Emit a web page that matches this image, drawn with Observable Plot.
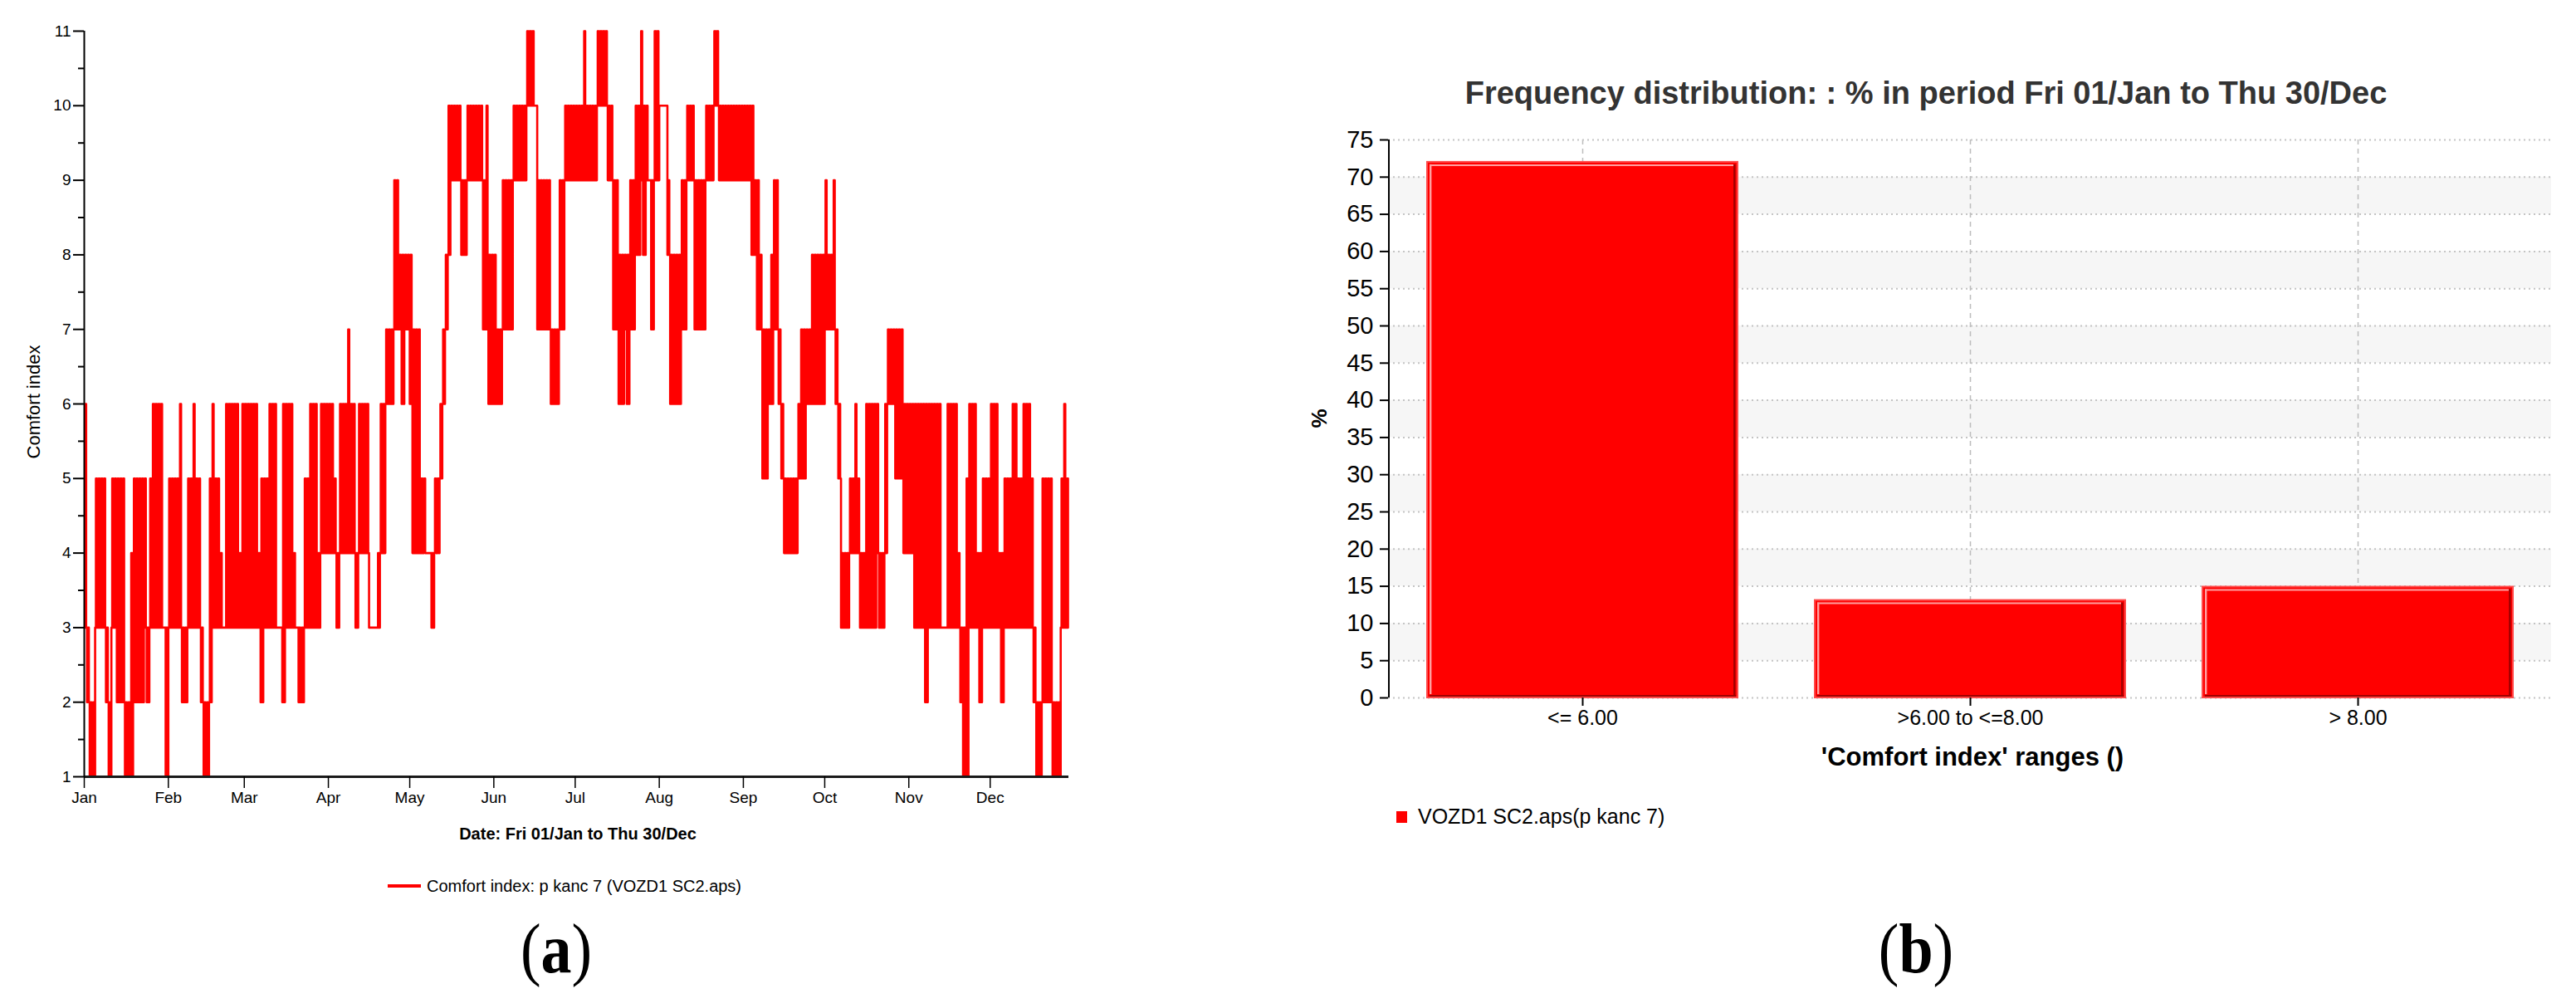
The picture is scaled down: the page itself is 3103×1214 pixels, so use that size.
<!DOCTYPE html>
<html><head><meta charset="utf-8">
<script src="https://cdn.jsdelivr.net/npm/d3@7"></script>
<script src="https://cdn.jsdelivr.net/npm/@observablehq/plot@0.6"></script>
<style>
body{margin:0;background:#fff;}
#root{position:relative;width:3103px;height:1214px;background:#fff;overflow:hidden;font-family:"Liberation Sans",Arial,sans-serif;color:#000;}
.t{position:absolute;white-space:nowrap;line-height:1;}
.p{position:absolute;}
</style></head><body><div id="root"></div>
<script>
// ---------- data: panel (a) ----------
const yearStart = "2010-01-01";
const yearEnd = "2010-12-30";
const monthTicks = ["2010-01-01","2010-02-01","2010-03-01","2010-04-01","2010-05-01","2010-06-01",
  "2010-07-01","2010-08-01","2010-09-01","2010-10-01","2010-11-01","2010-12-01"];
const comfortTicks = [1,2,3,4,5,6,7,8,9,10,11];
const comfortMinorTicks = [1.5,2.5,3.5,4.5,5.5,6.5,7.5,8.5,9.5,10.5];
// [first day, last day, daily low, daily high] (day 0 = 01/Jan)
const comfortRuns = [
  [0,0,3,6],[1,1,2,3],[2,3,1,2],[4,7,3,5],[8,8,2,3],[9,9,1,2],[10,11,3,5],[12,14,2,5],
  [15,16,1,2],[17,17,1,4],[18,21,2,5],[22,22,3,5],[23,23,2,3],[24,24,3,5],[25,28,3,6],
  [29,29,3,3],[30,30,1,3],[31,34,3,5],[35,35,3,6],[36,37,2,3],[38,39,3,5],[40,40,3,6],
  [41,42,3,5],[43,43,2,3],[44,45,1,2],[46,46,2,5],[47,47,3,6],[48,49,3,5],[50,50,3,4],
  [51,51,3,3],[52,56,3,6],[57,57,3,4],[58,63,3,6],[64,64,3,4],[65,65,2,5],[66,67,3,5],
  [68,70,3,6],[71,72,3,3],[73,73,2,6],[74,76,3,6],[77,77,3,4],[78,78,3,3],[79,80,2,3],
  [81,82,3,5],[83,85,3,6],[86,86,3,4],[87,91,4,6],[92,92,4,5],[93,93,3,4],[94,96,4,6],
  [97,97,4,7],[98,99,4,6],[100,100,3,4],[101,104,4,6],[105,107,3,3],[108,108,3,4],
  [109,110,4,6],[111,113,6,7],[114,115,7,9],[116,116,7,8],[117,117,6,8],[118,119,7,8],
  [120,120,6,8],[121,123,4,7],[124,125,4,5],[126,127,4,4],[128,128,3,4],[129,130,4,5],
  [131,131,5,6],[132,132,6,7],[133,133,7,8],[134,134,8,10],[135,138,9,10],[139,140,8,9],
  [141,146,9,10],[147,147,7,9],[148,148,7,10],[149,151,6,8],[152,153,6,7],[154,157,7,9],
  [158,162,9,10],[163,165,10,11],[166,166,10,10],[167,171,7,9],[172,174,6,7],[175,176,7,9],
  [177,183,9,10],[184,184,9,11],[185,188,9,10],[189,192,10,11],[193,194,9,10],[195,196,7,9],
  [197,198,6,8],[199,199,7,8],[200,200,6,8],[201,202,7,9],[203,204,8,10],[205,205,9,11],
  [206,206,8,10],[207,207,9,10],[208,208,9,9],[209,209,7,9],[210,211,9,11],[212,214,10,10],
  [215,215,8,9],[216,219,6,8],[220,221,7,9],[222,224,9,10],[225,228,7,9],[229,231,9,10],
  [232,233,10,11],[234,245,9,10],[246,246,8,10],[247,247,8,9],[248,248,7,9],[249,249,7,8],
  [250,251,5,7],[252,252,6,7],[253,253,6,8],[254,255,7,9],[256,256,6,7],[257,257,5,6],
  [258,262,4,5],[263,263,5,6],[264,265,5,7],[266,267,6,7],[268,272,6,8],[273,273,7,9],
  [274,275,7,8],[276,276,7,9],[277,277,6,7],[278,278,5,6],[279,281,3,4],[282,283,4,5],
  [284,284,4,6],[285,285,4,5],[286,287,3,4],[288,291,3,6],[292,292,4,6],[293,294,3,4],
  [295,295,4,6],[296,298,6,7],[299,301,5,7],[302,305,4,6],[306,309,3,6],[310,310,2,6],
  [311,315,3,6],[316,317,3,3],[318,321,3,6],[322,322,3,4],[323,323,2,3],[324,324,1,3],
  [325,325,1,5],[326,328,3,6],[329,329,3,4],[330,330,2,4],[331,333,3,5],[334,336,3,6],
  [337,337,3,4],[338,338,2,4],[339,341,3,5],[342,343,3,6],[344,345,3,5],[346,348,3,6],
  [349,349,3,5],[350,350,2,3],[351,352,1,2],[353,356,2,5],[357,359,1,2],[360,360,3,5],
  [361,361,3,6],[362,362,3,5]
];
// ---------- data: panel (b) ----------
const rangeCategories = ["<= 6.00", ">6.00 to <=8.00", "> 8.00"];
const rangePercent = [72.0, 13.1, 14.9];
const percentTicks = [0,5,10,15,20,25,30,35,40,45,50,55,60,65,70,75];

const root = document.getElementById("root");
const FONT = '"Liberation Sans", Arial, sans-serif';

// ---------- panel (a) ----------
const DAY = 864e5;
const t0 = Date.parse(yearStart + "T00:00:00Z");
const series = [];
for (const [d0, d1, lo, hi] of comfortRuns) {
  for (let d = d0; d <= d1; d++) {
    series.push({t: new Date(t0 + d * DAY), v: lo});
    series.push({t: new Date(t0 + (d + 0.3) * DAY), v: hi});
    series.push({t: new Date(t0 + (d + 0.7) * DAY), v: lo});
  }
}
const xStart = new Date(yearStart + "T00:00:00Z");
const xEnd = new Date(yearEnd + "T00:00:00Z");

const plotA = Plot.plot({
  width: 1400, height: 1000,
  marginLeft: 101, marginRight: 113, marginTop: 37, marginBottom: 65,
  style: {fontFamily: FONT, fontSize: "19px", color: "#000", background: "transparent", overflow: "visible"},
  x: {type: "utc", domain: [xStart, xEnd], label: null},
  y: {domain: [1, 11], label: null},
  marks: [
    Plot.line(series, {x: "t", y: "v", curve: "step-after", stroke: "#ff0000", strokeWidth: 2.6}),
    Plot.ruleY([1], {stroke: "#1a1a1a", strokeWidth: 3}),
    Plot.ruleX([xStart], {y1: 1, y2: 11, stroke: "#000", strokeWidth: 2}),
    Plot.axisX({ticks: monthTicks.map(d => new Date(d + "T00:00:00Z")), tickFormat: d3.utcFormat("%b"),
      tickSize: 14, tickPadding: 4, strokeWidth: 1.5, label: null}),
    Plot.axisY({ticks: comfortTicks, tickSize: 13, tickPadding: 3, strokeWidth: 2, label: null}),
    Plot.axisY({ticks: comfortMinorTicks, tickSize: 7, tickFormat: () => "", strokeWidth: 2, label: null})
  ]
});
const wrapA = document.createElement("div");
wrapA.className = "p"; wrapA.style.left = "0px"; wrapA.style.top = "0px";
wrapA.appendChild(plotA); root.appendChild(wrapA);

// ---------- panel (b) ----------
const W2 = 1603, H2 = 800, mL2 = 172, mR2 = 30, mT2 = 28, mB2 = 100;
const step = (W2 - mL2 - mR2) / rangeCategories.length;
const bw = step * 0.8;
const bars = rangeCategories.map((c, i) => ({c, p: rangePercent[i]}));
const shade = d3.pairs(percentTicks).filter((_, i) => i % 2 === 1);

const plotB = Plot.plot({
  width: W2, height: H2,
  marginLeft: mL2, marginRight: mR2, marginTop: mT2, marginBottom: mB2,
  style: {fontFamily: FONT, fontSize: "25px", color: "#000", background: "transparent", overflow: "visible"},
  x: {type: "band", domain: rangeCategories, paddingInner: 0.2, paddingOuter: 0.1, label: null},
  y: {domain: [0, 75], label: null},
  marks: [
    Plot.rect(shade, {y1: d => d[0], y2: d => d[1], fill: "#f6f6f6"}),
    Plot.gridX({stroke: "#bdbdbd", strokeOpacity: 1, strokeWidth: 1.5, strokeDasharray: "6,5"}),
    Plot.ruleY(percentTicks, {stroke: "#c4c4c4", strokeWidth: 2, strokeDasharray: "2,4"}),
    Plot.barY(bars, {x: "c", y: "p", fill: "#ff0000", stroke: "#ff4a4a", strokeWidth: 2}),
    Plot.barY(bars, {x: "c", y: "p", fill: "#a00000", insetLeft: bw - 4.5, insetRight: 2.5, insetTop: 3, insetBottom: 1}),
    Plot.tickY(bars, {x: "c", y: () => 0, dy: -2.5, stroke: "#a00000", strokeWidth: 2, insetLeft: 3, insetRight: 2}),
    Plot.tickY(bars, {x: "c", y: "p", dy: 3.5, stroke: "#ffa0a0", strokeWidth: 2, insetLeft: 3, insetRight: 5}),
    Plot.barY(bars, {x: "c", y: "p", fill: "#ffa0a0", insetLeft: 3, insetRight: bw - 5, insetTop: 3, insetBottom: 4}),
    Plot.ruleX([rangeCategories[0]], {y1: 0, y2: 75, dx: -step / 2, stroke: "#000", strokeWidth: 2}),
    Plot.axisY({ticks: percentTicks, tickSize: 10, tickPadding: 8, strokeWidth: 2, fontSize: 29, label: null}),
    Plot.axisX({tickSize: 10, tickPadding: 5, strokeWidth: 2, fontSize: 25, label: null})
  ]
});
const wrapB = document.createElement("div");
wrapB.className = "p"; wrapB.style.left = "1500px"; wrapB.style.top = "140px";
wrapB.appendChild(plotB); root.appendChild(wrapB);

// ---------- texts ----------
function txt(html, x, y, css, rot) {
  const d = document.createElement("div");
  d.className = "t";
  d.innerHTML = html;
  d.style.left = x + "px"; d.style.top = y + "px";
  d.style.transform = "translate(-50%,-50%)" + (rot || "");
  Object.assign(d.style, css || {});
  root.appendChild(d);
  return d;
}
// panel (a)
txt("Comfort index", 41, 484, {fontSize: "22px"}, " rotate(-90deg)");
txt("Date: Fri 01/Jan to Thu 30/Dec", 696, 1004, {fontSize: "20px", fontWeight: "bold"});
const legA = document.createElement("div");
legA.className = "t";
legA.style.left = "467px"; legA.style.top = "1057px"; legA.style.fontSize = "20px";
legA.style.display = "flex"; legA.style.alignItems = "center";
legA.innerHTML = '<span style="display:inline-block;width:40px;height:3.5px;background:#ff0000;margin-right:7px"></span>Comfort index: p kanc 7 (VOZD1 SC2.aps)';
root.appendChild(legA);
// panel (b)
txt("Frequency distribution: : % in period Fri 01/Jan to Thu 30/Dec", 2320, 112, {fontSize: "38px", fontWeight: "bold", color: "#333"});
txt("%", 1589, 504, {fontSize: "26px", fontWeight: "bold"}, " rotate(-90deg)");
txt("'Comfort index' ranges ()", 2376, 911, {fontSize: "31px", fontWeight: "bold"});
const legB = document.createElement("div");
legB.className = "t";
legB.style.left = "1682px"; legB.style.top = "971px"; legB.style.fontSize = "25px";
legB.style.display = "flex"; legB.style.alignItems = "center";
legB.innerHTML = '<span style="display:inline-block;width:13px;height:14px;background:#ff0000;margin-right:13px"></span>VOZD1 SC2.aps(p kanc 7)';
root.appendChild(legB);
// sub-figure letters
const serif = {fontFamily: '"Liberation Serif", "DejaVu Serif", serif', fontSize: "84px"};
txt("(<b>a</b>)", 670, 1143, serif, " scaleX(0.88)");
txt("(<b>b</b>)", 2308, 1143, serif, " scaleX(0.88)");
</script>
</body></html>
